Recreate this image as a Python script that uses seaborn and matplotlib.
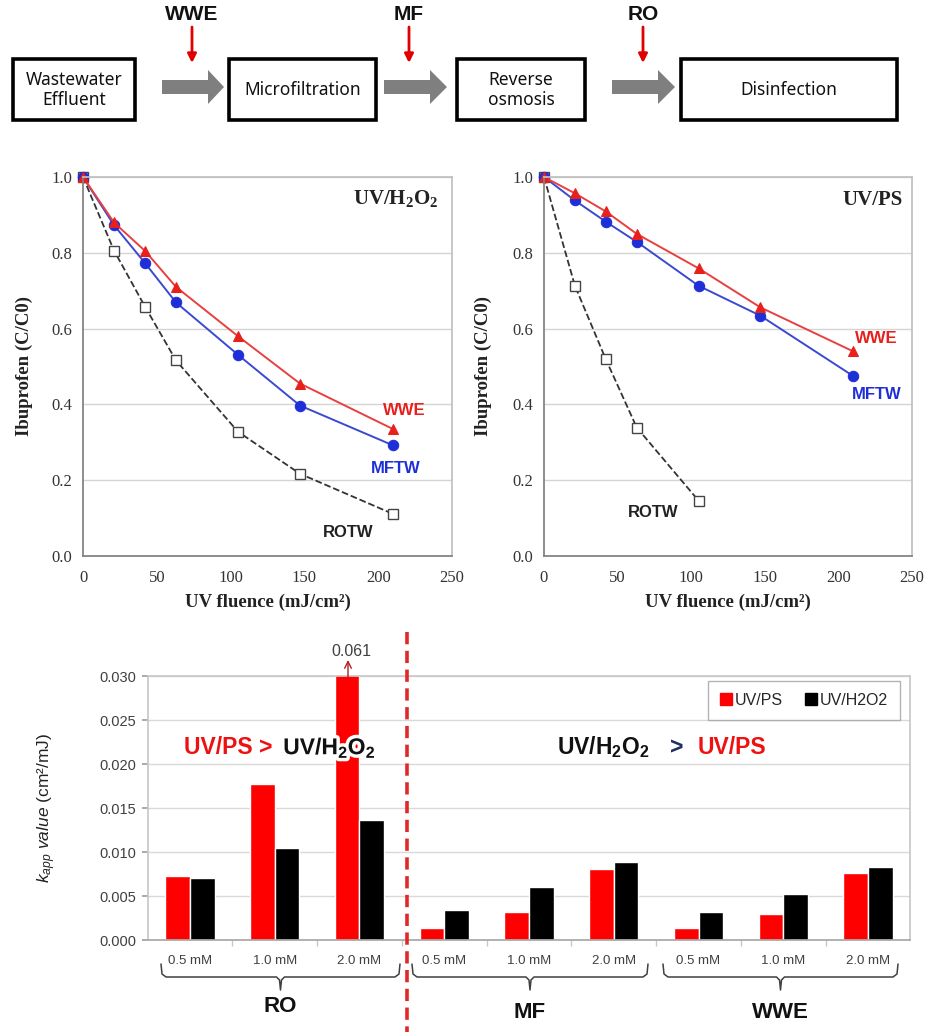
import numpy as np
import pandas as pd
import seaborn as sns
import matplotlib.pyplot as plt
from matplotlib.patches import Rectangle, Polygon
from matplotlib.lines import Line2D
from matplotlib import patheffects

# UV fluence (mJ/cm2) and Ibuprofen C/C0
fluence = [0, 21, 42, 63, 105, 147, 210]
h2o2_wwe = [1.0, 0.880, 0.805, 0.710, 0.580, 0.455, 0.335]
h2o2_mftw = [1.0, 0.873, 0.773, 0.669, 0.531, 0.397, 0.292]
h2o2_rotw = [1.0, 0.806, 0.658, 0.516, 0.328, 0.217, 0.111]
ps_wwe = [1.0, 0.957, 0.909, 0.850, 0.759, 0.656, 0.540]
ps_mftw = [1.0, 0.938, 0.882, 0.829, 0.713, 0.634, 0.475]
ps_rotw_fluence = [0, 21, 42, 63, 105]
ps_rotw = [1.0, 0.713, 0.519, 0.339, 0.146]

# kapp values (cm2/mJ)
water = ['RO', 'RO', 'RO', 'MF', 'MF', 'MF', 'WWE', 'WWE', 'WWE']
dose = ['0.5 mM', '1.0 mM', '2.0 mM'] * 3
kapp_ps = [0.0073, 0.0177, 0.061, 0.0014, 0.0032, 0.0081, 0.0014, 0.0029, 0.0076]
kapp_h2o2 = [0.0071, 0.0105, 0.0136, 0.0034, 0.0060, 0.0089, 0.0032, 0.0052, 0.0083]

RED = '#e8201c'
BLUE = '#1f2fd8'

sns.set_theme(style='white')
plt.rcParams['font.family'] = ['Liberation Sans', 'DejaVu Sans']
# sans bold digits for the bar chart, serif bold (via \mathsf) for the line charts
plt.rcParams['mathtext.fontset'] = 'custom'
plt.rcParams['mathtext.rm'] = 'Liberation Sans:bold'
plt.rcParams['mathtext.bf'] = 'Liberation Sans:bold'
plt.rcParams['mathtext.it'] = 'Liberation Sans:italic'
plt.rcParams['mathtext.sf'] = 'Liberation Serif:bold'

W, H = 934, 1032
fig = plt.figure(figsize=(W / 100, H / 100), dpi=100)


def px_box(l, t, r, b):
    return [l / W, 1 - b / H, (r - l) / W, (b - t) / H]


def decay_panel(ax, title, rotw_x, rotw_y, wwe_y, mftw_y, lab_pos):
    sns.lineplot(x=rotw_x, y=rotw_y, ax=ax, color='#333333', linestyle='--', lw=1.3,
                 marker='s', markersize=7, markerfacecolor='white',
                 markeredgecolor='#444444', markeredgewidth=1.0, clip_on=False)
    sns.lineplot(x=fluence, y=mftw_y, ax=ax, color='#3a4ad0', lw=1.4,
                 marker='o', markersize=7.5, markerfacecolor=BLUE,
                 markeredgecolor=BLUE, clip_on=False)
    sns.lineplot(x=fluence, y=wwe_y, ax=ax, color='#e84040', lw=1.4,
                 marker='^', markersize=7.5, markerfacecolor=RED,
                 markeredgecolor=RED, clip_on=False)
    ax.set_xlim(0, 250)
    ax.set_ylim(0, 1.0)
    ax.set_xticks(range(0, 251, 50))
    ax.set_yticks(np.arange(0, 1.01, 0.2))
    ax.yaxis.set_major_formatter('{x:.1f}')
    ax.grid(axis='y', color='#d4d4d4', lw=1)
    ax.tick_params(axis='both', length=4, width=0.8, color='#808080',
                   labelsize=12, labelcolor='#333333', direction='out')
    ax.tick_params(axis='x', pad=6)
    for lbl in ax.get_xticklabels() + ax.get_yticklabels():
        lbl.set_fontfamily('Liberation Serif')
    for side in ['top', 'right']:
        ax.spines[side].set_color('#c0c0c0')
    for side in ['left', 'bottom']:
        ax.spines[side].set_color('#808080')
    ax.set_xlabel('UV fluence (mJ/cm²)', fontsize=13.5, fontweight='bold',
                  fontfamily='Liberation Serif', color='#222222')
    ax.set_ylabel('Ibuprofen (C/C0)', fontsize=13.5, fontweight='bold',
                  fontfamily='Liberation Serif', color='#222222')
    ax.text(lab_pos['title'][0], lab_pos['title'][1], title, ha='center', va='center',
            fontsize=15, fontweight='bold', fontfamily='Liberation Serif', color='#222222')
    for name, color in [('WWE', RED), ('MFTW', BLUE), ('ROTW', '#222222')]:
        ax.text(lab_pos[name][0], lab_pos[name][1], name, ha='center', va='center',
                fontsize=12, fontweight='bold', color=color)


ax1 = fig.add_axes(px_box(83, 177, 452, 556))
decay_panel(ax1, r'UV/H$_\mathsf{2}$O$_\mathsf{2}$', fluence, h2o2_rotw, h2o2_wwe, h2o2_mftw,
            {'title': (212, 0.94), 'WWE': (218, 0.385), 'MFTW': (212, 0.232),
             'ROTW': (180, 0.061)})
ax1.yaxis.set_label_coords(-0.135, 0.5)
ax1.xaxis.set_label_coords(0.5, -0.1)

ax2 = fig.add_axes(px_box(544, 177, 912, 556))
decay_panel(ax2, 'UV/PS', ps_rotw_fluence, ps_rotw, ps_wwe, ps_mftw,
            {'title': (223, 0.94), 'WWE': (226, 0.575), 'MFTW': (226, 0.425),
             'ROTW': (74, 0.116)})
ax2.yaxis.set_label_coords(-0.14, 0.5)
ax2.xaxis.set_label_coords(0.5, -0.1)

# bar chart
kdf = pd.DataFrame({
    'cond': [f'{w} {d}' for w, d in zip(water, dose)] * 2,
    'method': ['UV/PS'] * 9 + ['UV/H2O2'] * 9,
    'kapp': kapp_ps + kapp_h2o2,
})
axb = fig.add_axes(px_box(147.6, 676, 910.4, 940))
sns.barplot(data=kdf, x='cond', y='kapp', hue='method',
            palette={'UV/PS': '#ff0000', 'UV/H2O2': '#000000'},
            width=0.58, saturation=1, errorbar=None, legend=False, ax=axb)
axb.set_ylim(0, 0.030)
axb.set_xlim(-0.5, 8.5)
axb.set_yticks(np.arange(0, 0.0301, 0.005))
axb.yaxis.set_major_formatter('{x:.3f}')
axb.set_xticks(range(9))
axb.set_xticklabels(dose)
axb.set_xticks(np.arange(0.5, 8, 1), minor=True)
axb.grid(axis='y', color='#d9d9d9', lw=1)
axb.set_axisbelow(True)
axb.tick_params(axis='x', which='major', length=0, pad=11, labelsize=9.5,
                labelcolor='#404040')
axb.tick_params(axis='x', which='minor', length=4, color='#c8c8c8', bottom=True)
axb.tick_params(axis='y', length=4, color='#a0a0a0', left=True, labelsize=10.5,
                labelcolor='#404040', pad=4)
for side in ['top', 'right', 'left']:
    axb.spines[side].set_color('#c8c8c8')
axb.spines['bottom'].set_color('#a8a8a8')
axb.set_xlabel('')
axb.set_ylabel(r'$\mathit{k_{app}\ value}$ (cm²/mJ)', fontsize=12.5, color='#222222')
axb.yaxis.set_label_coords(-0.118, 0.5)

handles = [Line2D([], [], marker='s', ls='', color='#ff0000', markersize=9),
           Line2D([], [], marker='s', ls='', color='#000000', markersize=9)]
leg = axb.legend(handles, ['UV/PS', 'UV/H2O2'], ncol=2, loc='upper right',
                 bbox_to_anchor=(0.986, 0.981), borderaxespad=0, frameon=True,
                 fancybox=False, edgecolor='#a0a0a0', handlelength=0.7,
                 handletextpad=0.2, columnspacing=1.4, fontsize=11.5, borderpad=0.75)
leg.get_frame().set_linewidth(1.0)

glow = [patheffects.withStroke(linewidth=5, foreground='white')]
axb.text(1.05, 0.0211, 'UV/PS > ', ha='right', va='baseline', fontsize=16.5,
         fontweight='bold', color='#ee1111')
axb.text(1.10, 0.0211, r'UV/H$_\mathbf{2}$O$_\mathbf{2}$', ha='left', va='baseline',
         fontsize=16.5, fontweight='bold', color='#111111', path_effects=glow)
axb.text(4.33, 0.0211, r'UV/H$_\mathbf{2}$O$_\mathbf{2}$', ha='left', va='baseline',
         fontsize=16.5, fontweight='bold', color='#111111')
axb.text(5.745, 0.0211, '>', ha='center', va='baseline', fontsize=16.5,
         fontweight='bold', color='#1f3060')
axb.text(5.99, 0.0211, 'UV/PS', ha='left', va='baseline', fontsize=16.5,
         fontweight='bold', color='#ee1111')

# overlay for the process diagram, braces and separators
ov = fig.add_axes([0, 0, 1, 1])
ov.set_xlim(0, W)
ov.set_ylim(H, 0)
ov.axis('off')
ov.patch.set_alpha(0)

boxes = [(13, 135, 'Wastewater\nEffluent'), (229, 376, 'Microfiltration'),
         (457, 585, 'Reverse\nosmosis'), (681, 897, 'Disinfection')]
for l, r, txt in boxes:
    ov.add_patch(Rectangle((l, 59), r - l, 61, fill=False, lw=2.6, ec='black'))
    ov.text((l + r) / 2, 90, txt, ha='center', va='center', fontsize=12.5,
            fontfamily='Noto Sans', color='#111111', linespacing=1.15)

for x0, x1, tip in [(162, 208, 224), (384, 430, 447), (612, 658, 675)]:
    ov.add_patch(Polygon([(x0, 80), (x1, 80), (x1, 70), (tip, 87), (x1, 104),
                          (x1, 94), (x0, 94)], closed=True, fc='#7f7f7f', ec='none'))

for x, lab in [(192, 'WWE'), (409, 'MF'), (643, 'RO')]:
    ov.annotate('', xy=(x, 63), xytext=(x, 27),
                arrowprops=dict(arrowstyle='-|>', color='#e00000', lw=2, mutation_scale=13,
                                shrinkA=0, shrinkB=0))
    ov.text(x, 15, lab, ha='center', va='center', fontsize=15, fontweight='bold',
            color='#111111')

# clipped bar label
ov.annotate('', xy=(348, 660), xytext=(348, 677),
            arrowprops=dict(arrowstyle='->', color='#b02020', lw=1, shrinkA=0, shrinkB=0))
ov.text(351, 652, '0.061', ha='center', va='center', fontsize=11.5, color='#404040')

# red separator
ov.plot([407, 407], [632, 1032], color='#e02828', lw=2.6, dashes=(3.4, 1.8))


def brace(x0, x1, top=964, mid=977, tip=990):
    xc = (x0 + x1) / 2
    xs = [x0, x0 + 1, x0 + 5, xc - 4, xc - 1, xc, xc + 1, xc + 4, x1 - 5, x1 - 1, x1]
    ys = [top, mid - 3, mid, mid, mid + 3, tip, mid + 3, mid, mid, mid - 3, top]
    ov.plot(xs, ys, color='#404040', lw=1.1)


for x0, x1, lab, ly in [(161, 400, 'RO', 1007), (412, 648, 'MF', 1012),
                        (663, 898, 'WWE', 1013)]:
    brace(x0, x1)
    ov.text((x0 + x1) / 2, ly, lab, ha='center', va='center', fontsize=16,
            fontweight='bold', color='#111111')

fig.savefig('out.png', dpi=100)
